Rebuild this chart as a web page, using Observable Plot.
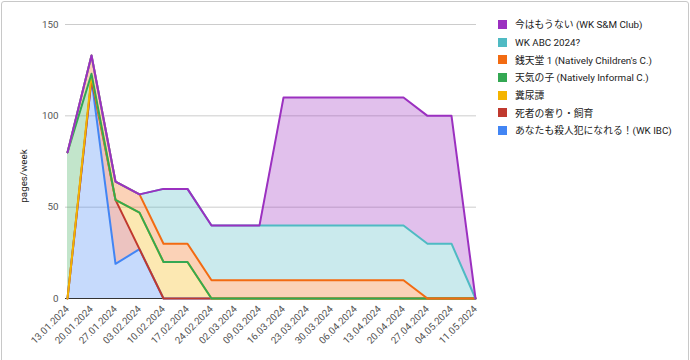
<!DOCTYPE html>
<html><head><meta charset="utf-8">
<script src="https://cdn.jsdelivr.net/npm/d3@7"></script>
<script src="https://cdn.jsdelivr.net/npm/@observablehq/plot@0.6"></script>
<style>
body{margin:0;background:#fff;font-family:Roboto,"Noto Sans CJK JP",sans-serif;}
#wrap{position:relative;width:690px;height:360px;overflow:hidden;background:#fff;}
#frame{position:absolute;left:1px;top:1px;width:686px;height:400px;border:1px solid #c8c8c8;border-radius:3px;pointer-events:none;}
#chart{position:absolute;left:0;top:0;}
#legend{position:absolute;left:498px;top:15.5px;font-size:9.8px;color:#222;}
.item{display:flex;align-items:center;height:17.7px;white-space:nowrap;}
.sw{width:9px;height:9px;margin-right:8px;box-sizing:border-box;}
#ylabel{position:absolute;left:23px;top:176px;transform:translate(-50%,-50%) rotate(-90deg);font-size:9.8px;color:#222;white-space:nowrap;}
</style>
</head><body>
<div id="wrap"><div id="chart"></div><div id="ylabel">pages/week</div><div id="legend"></div><div id="frame"></div></div>
<script>
const dates = ["13.01.2024","20.01.2024","27.01.2024","03.02.2024","10.02.2024","17.02.2024","24.02.2024","02.03.2024","09.03.2024","16.03.2024","23.03.2024","30.03.2024","06.04.2024","13.04.2024","20.04.2024","27.04.2024","04.05.2024","11.05.2024"];
// series, bottom of stack to top
const seriesNames = ["あなたも殺人犯になれる！(WK IBC)","死者の奢り・飼育","糞尿譚","天気の子 (Natively Informal C.)","銭天堂 1 (Natively Children's C.)","WK ABC 2024?","今はもうない (WK S&M Club)"];
const seriesColors = ["#4285f4","#c0392e","#f4b400","#34a853","#f26b12","#4fbac3","#9b30c0"];
const wkIBC      = [0,120,19,27,0,0,0,0,0,0,0,0,0,0,0,0,0,0];
const shisha     = [0,0,35,0,0,0,0,0,0,0,0,0,0,0,0,0,0,0];
const funnyo     = [0,2,0,20,20,20,0,0,0,0,0,0,0,0,0,0,0,0];
const tenki      = [80,1,0,0,0,0,0,0,0,0,0,0,0,0,0,0,0,0];
const zenitendo  = [0,10,10,10,10,10,10,10,10,10,10,10,10,10,10,0,0,0];
const wkABC      = [0,0,0,0,30,30,30,30,30,30,30,30,30,30,30,30,30,0];
const imawa      = [0,0,0,0,0,0,0,0,0,70,70,70,70,70,70,70,70,0];
const yTicks = [0,50,100,150];

const seriesValues = [wkIBC, shisha, funnyo, tenki, zenitendo, wkABC, imawa];
const data = seriesNames.flatMap((s,i)=>dates.map((d,j)=>({date:d, series:s, value:seriesValues[i][j]})));

const chart = Plot.plot({
  width:690, height:360,
  marginLeft:65, marginRight:214, marginTop:24, marginBottom:62,
  style:{fontFamily:'Roboto,"Noto Sans CJK JP",sans-serif', fontSize:"9.8px", color:"#444", background:"transparent"},
  x:{type:"point", domain:dates, padding:0},
  y:{domain:[0,150]},
  color:{domain:seriesNames, range:seriesColors},
  marks:[
    Plot.gridY(yTicks.filter(v=>v>0), {stroke:"#cccccc", strokeOpacity:1}),
    Plot.areaY(data, {x:"date", y:"value", z:"series", fill:"series", fillOpacity:0.3, order:seriesNames}),
    Plot.ruleY([0], {stroke:"#333"}),
    Plot.lineY(data, Plot.stackY2({x:"date", y:"value", z:"series", stroke:"series", strokeWidth:2, order:seriesNames})),
    Plot.axisY({ticks:yTicks, tickSize:0, tickPadding:7, label:null, fill:"#555"}),
    Plot.axisX({tickRotate:-45, tickSize:0, tickPadding:9, label:null, fill:"#555"})
  ]
});
document.getElementById("chart").appendChild(chart);

const legend = document.getElementById("legend");
for (let i = seriesNames.length-1; i>=0; i--) {
  const it = document.createElement("div"); it.className="item";
  const sw = document.createElement("div"); sw.className="sw";
  sw.style.background = seriesColors[i];
  const tx = document.createElement("span"); tx.textContent = seriesNames[i];
  it.appendChild(sw); it.appendChild(tx); legend.appendChild(it);
}
</script>
</body></html>
